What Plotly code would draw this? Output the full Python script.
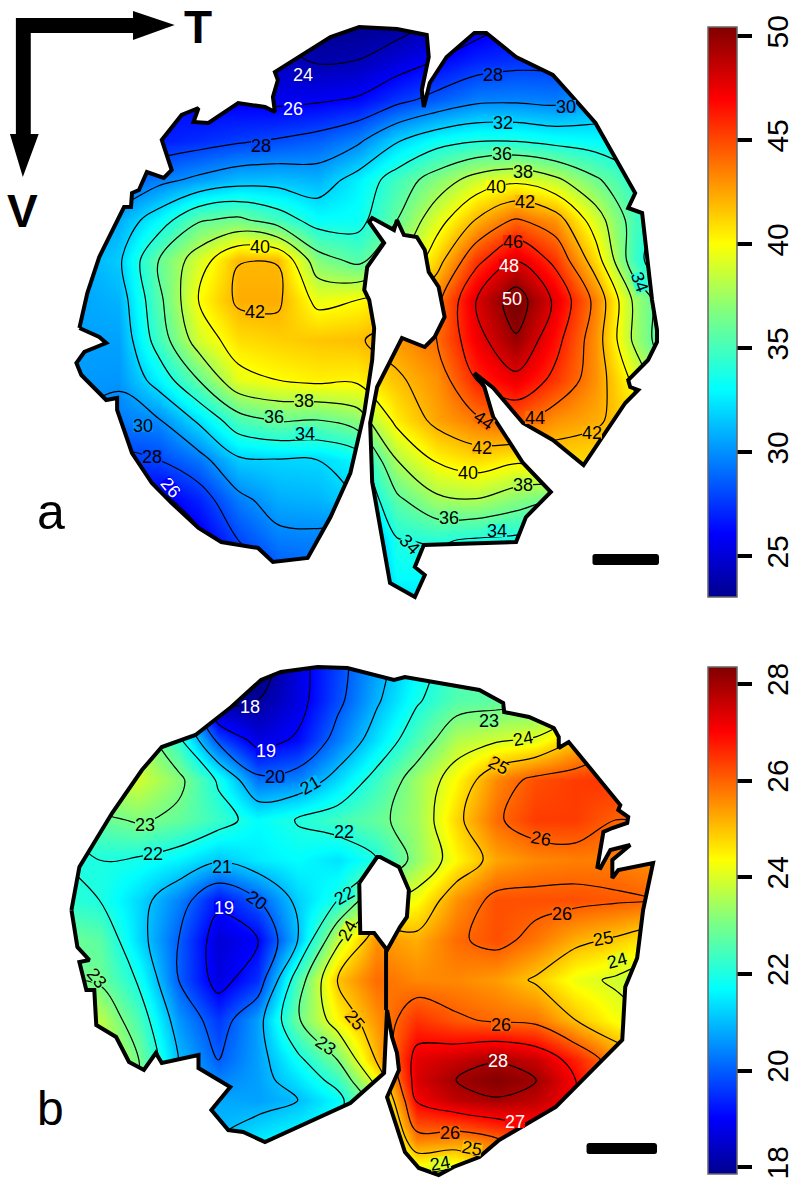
import plotly.graph_objects as go

JET = [[0, "#00008F"], [0.111, "#0000FF"], [0.365, "#00FFFF"], [0.5, "#80FF80"],
       [0.62, "#FFFF00"], [0.873, "#FF0000"], [1, "#800000"]]

# ---------- panel a ----------
A_X = [70, 120, 160, 200, 240, 280, 320, 360, 400, 440, 480, 520, 560, 600, 640, 680]
A_Y = [20, 60, 100, 140, 180, 220, 260, 300, 340, 380, 420, 460, 500, 540, 580, 620]
A_Z = [
 [28, 27, 26, 25, 24, 23.5, 23, 23, 23, 24, 25, 26, 27, 28, 29, 30],
 [27.5, 27, 26, 25.5, 25, 24.5, 23.8, 24, 25, 26, 27, 27.4, 27.5, 28, 29, 30],
 [28, 27.5, 26.5, 26, 25.8, 25.6, 25.8, 26.2, 27.5, 28.6, 29.6, 29.7, 29.5, 30.5, 31, 32],
 [27, 26.5, 26.8, 27.2, 27.7, 28.1, 28.6, 29.6, 31.8, 33.2, 33.8, 33.8, 33.3, 33, 33, 33.5],
 [27, 28.5, 29.5, 30.4, 31.2, 31.3, 31, 32.7, 34.9, 36.9, 38.8, 39.6, 38.4, 36.3, 34.3, 33],
 [30, 30.8, 33, 35.8, 36.4, 35, 33.2, 33.3, 36, 39.2, 42.1, 44.2, 42.9, 39, 35, 33],
 [30.5, 31.7, 36, 39, 41.95, 41.95, 36.8, 35.5, 37.5, 41.2, 45.5, 47.9, 45.5, 41, 34.6, 32],
 [30.5, 31, 35.5, 40, 42.3, 42.3, 39.5, 40, 41, 43.5, 48, 51, 47.6, 43.5, 37.5, 34],
 [30.5, 30.5, 34.9, 38.9, 40.9, 41.3, 41.6, 41.8, 42.8, 44, 47.3, 49.8, 46.6, 43, 37.5, 34],
 [30.3, 30.2, 32.8, 36, 39.4, 40, 40.4, 40.3, 41.7, 43, 46, 47.5, 45.5, 43, 39.5, 35],
 [30, 29.5, 29.9, 32.3, 35.2, 36.2, 36, 37, 40.5, 42.5, 43.7, 44.5, 43, 42.3, 41, 35],
 [28, 27.5, 28, 29.3, 31.7, 31.9, 32, 33, 38, 40.2, 41, 40.3, 41, 41, 40, 38],
 [27, 26, 25.5, 27, 29.5, 30.8, 31, 32, 35.6, 37.6, 37.9, 36.9, 36, 37, 38, 38],
 [26, 25, 25, 25.5, 28, 29.5, 29.6, 28.5, 33.9, 34.2, 33.8, 33.6, 33, 33, 34, 35],
 [25, 24, 24, 25, 26, 28, 29, 29, 33, 33, 32, 33, 33, 33, 34, 35],
 [25, 24, 24, 25, 26, 28, 29, 29, 31, 32, 32, 33, 33, 33, 34, 35],
]
A_OUTLINE_X = [80,100,107,85,77,82,107,118,118,133,153,173,200,223,260,275,310,333,353,367,375,377,372,367,370,387,372,375,397,400,407,420,428,432,442,445,448,448,438,428,405,380,373,375,393,418,428,418,427,520,530,555,527,497,488,478,497,527,557,588,630,643,635,633,653,662,662,657,647,633,640,620,600,577,557,520,490,478,450,433,427,425,432,430,400,362,333,277,280,275,277,267,240,210,195,200,183,163,173,165,148,140,133,132,125,100,88]
A_OUTLINE_Y = [328,337,343,352,363,375,400,398,410,453,483,503,528,542,548,562,558,517,473,413,360,328,300,290,267,243,222,218,230,220,235,237,250,272,287,300,317,317,337,347,338,387,423,482,583,597,575,567,545,542,517,492,463,417,387,373,388,423,440,465,403,390,387,380,360,342,330,300,213,208,193,157,123,97,75,57,33,33,57,83,107,90,57,35,29,27,37,72,80,97,112,107,103,123,122,108,115,140,170,178,172,190,193,207,207,257,293]
A_LEVELS = (24, 50, 2)
A_TICK_STEP = 5
A_RANGE = (23.05, 50.45)

# ---------- panel b ----------
B_X = [60, 100, 140, 180, 220, 260, 300, 340, 380, 420, 460, 500, 540, 580, 620, 660, 700]
B_Y = [660, 700, 740, 780, 820, 860, 900, 940, 980, 1020, 1060, 1080, 1100, 1140, 1180]
B_Z = [
 [23, 23, 22, 19.5, 17.3, 17.4, 18.7, 19.7, 20.7, 21.6, 22.4, 23, 23.5, 24, 24.5, 25, 25],
 [23, 23.5, 23.5, 21, 17.8, 18, 18.7, 19.8, 20.9, 21.9, 22.6, 22.7, 22.8, 23.2, 24, 24.5, 25],
 [23, 23.8, 23.6, 22.2, 19.8, 18.7, 19.1, 20.3, 21.4, 22.5, 23.6, 23.9, 24.1, 25, 25.8, 26, 26],
 [23, 23.8, 23.9, 23.2, 21.9, 20.2, 20.4, 21.3, 22.3, 23.4, 24.4, 25.6, 26.2, 26.4, 26.5, 26.5, 26],
 [22, 22.8, 23.1, 22.8, 22.3, 21.7, 22.05, 22.4, 22.8, 23.4, 24.8, 25.9, 26.4, 26.4, 26, 26, 25.8],
 [22, 22, 21.9, 21.6, 21.1, 21.5, 21.7, 21.4, 22, 23.3, 24.4, 25.3, 25.6, 25.7, 25.7, 25.5, 25.5],
 [22.2, 22, 21.3, 20.4, 19.2, 20, 21.2, 22, 23.8, 24.3, 25.5, 26.2, 26.2, 26.2, 26.1, 26, 25.8],
 [23, 22.7, 21.3, 20, 18.6, 19, 21, 23.8, 25.5, 25.2, 25.9, 26.2, 25.8, 25.2, 24.9, 24.5, 24.5],
 [23, 22.9, 21.9, 20, 18.7, 19.5, 22.5, 25, 25.9, 25.6, 25.6, 25.4, 24.9, 24.2, 23.9, 23.5, 23.5],
 [23.5, 23.7, 22.5, 20.6, 19.6, 20.7, 22.9, 24.4, 25.5, 26.5, 26.1, 25.9, 25.8, 25, 24.3, 24, 24],
 [24, 24, 23, 21, 20, 20.7, 21.8, 23, 25.1, 27.3, 27.6, 27.95, 27.6, 26.7, 25.6, 25, 25],
 [24, 24, 23, 20.9, 20.4, 20.7, 21.4, 22.3, 24.3, 27.4, 28.03, 28.3, 28.03, 27, 25.8, 25, 25],
 [24, 24, 23, 21, 20.8, 20.7, 21, 21.7, 23.5, 27.1, 27.7, 27.95, 27.7, 27, 26, 25, 25],
 [24, 24, 23, 21.5, 21, 21.5, 21.8, 22, 23, 25.7, 25.5, 25.9, 26.5, 27, 26, 25, 25],
 [24, 24, 23, 22, 21, 21.5, 22, 22, 22.5, 23.5, 23.5, 24.5, 25.5, 26, 26, 25, 25],
]
B_OUTLINE_X = [72,78,90,80,87,95,97,117,130,145,157,163,200,200,232,213,230,245,267,353,387,389,390,395,400,402,390,408,422,442,457,483,503,560,627,630,642,648,658,623,617,617,635,615,605,602,608,617,632,633,623,625,573,563,563,558,533,508,507,483,408,397,350,320,283,263,233,197,163,143,113,80]
B_OUTLINE_Y = [910,947,960,962,990,990,1025,1037,1062,1070,1053,1063,1055,1068,1087,1110,1130,1132,1142,1103,1073,1010,1010,1037,1053,1070,1097,1152,1168,1175,1167,1157,1140,1107,1040,987,958,910,863,870,878,860,845,850,868,867,832,828,823,817,810,805,742,748,737,728,717,712,703,690,677,680,668,667,672,680,707,735,747,770,813,867]
B_HOLE_X = [362,380,383,402,412,410,403,390,377,363]
B_HOLE_Y = [883,857,857,867,890,917,927,950,933,933]
B_SEAM_X = [389, 389]
B_SEAM_Y = [950, 1010]
B_LEVELS = (18, 28, 1)
B_TICK_STEP = 2
B_RANGE = (17.86, 28.35)

# ---------- contour labels: value, position, angle, text colour ----------
A_LABELS = [
 (24,305,74,0,"w"),(26,295,108,0,"w"),(28,263,145,0,"k"),(28,497,74,0,"k"),(30,570,106,0,"k"),
 (32,507,122,0,"k"),(36,506,153,0,"k"),(38,527,171,0,"k"),(40,500,186,0,"k"),(42,529,201,0,"k"),
 (46,517,241,0,"k"),(48,513,265,0,"w"),(50,516,298,0,"w"),(40,262,246,0,"k"),(42,257,311,0,"k"),
 (38,306,400,0,"k"),(36,276,416,0,"k"),(34,307,433,0,"k"),(30,144,425,0,"k"),(28,153,456,0,"k"),
 (26,172,487,50,"w"),(34,645,282,70,"k"),(44,488,420,35,"k"),(44,539,417,0,"k"),(42,486,447,0,"k"),
 (42,596,432,0,"k"),(40,472,472,0,"k"),(38,527,484,0,"k"),(36,452,517,0,"k"),(34,501,530,0,"k"),
 (34,413,544,45,"k"),
]
B_LABELS = [
 (18,252,706,0,"w"),(19,268,750,0,"w"),(20,277,776,0,"k"),(21,312,785,-30,"k"),(23,146,824,0,"k"),
 (22,154,853,0,"k"),(22,347,831,0,"k"),(21,224,866,0,"k"),(20,259,900,35,"k"),(19,226,907,0,"w"),
 (22,347,895,-30,"k"),(24,350,930,-60,"k"),(23,98,978,50,"k"),(23,328,1045,35,"k"),(25,358,1020,50,"k"),
 (23,493,720,0,"k"),(24,527,738,-10,"k"),(25,503,765,30,"k"),(26,545,838,10,"k"),(26,566,913,0,"k"),
 (25,608,938,-10,"k"),(24,622,960,-15,"k"),(26,505,1024,0,"k"),(28,502,1060,0,"w"),(27,519,1121,0,"w"),
 (26,453,1132,0,"k"),(25,476,1148,10,"k"),(24,443,1163,-10,"k"),
]


def hex_rgb(h):
    return tuple(int(h[i:i + 2], 16) for i in (1, 3, 5))


def jet(v, rng):
    f = (v - rng[0]) / (rng[1] - rng[0])
    f = min(max(f, 0), 1)
    for (a, ca), (b, cb) in zip(JET, JET[1:]):
        if f <= b:
            t = (f - a) / (b - a)
            r = [round(p + (q - p) * t) for p, q in zip(hex_rgb(ca), hex_rgb(cb))]
            return f"rgb({r[0]},{r[1]},{r[2]})"
    return JET[-1][1]


def field(x, y, z, rng, step, bar_top, bar_len):
    return go.Heatmap(
        x=x, y=y, z=z, zmin=rng[0], zmax=rng[1], colorscale=JET, zsmooth="best", hoverinfo="skip",
        colorbar=dict(
            x=713 / 795, xanchor="left", xpad=0, ypad=0, y=1 - bar_top / 1182, yanchor="top",
            thickness=29, thicknessmode="pixels", len=bar_len, lenmode="pixels",
            tick0=0, dtick=step, ticks="outside", ticklen=15, tickwidth=4, tickcolor="black",
            tickangle=-90, tickfont=dict(family="Liberation Sans", size=30, color="black"),
            outlinecolor="#666666", outlinewidth=1.5, borderwidth=0),
    )


def lines(x, y, z, levels):
    return go.Contour(
        x=x, y=y, z=z, showscale=False, hoverinfo="skip",
        contours=dict(start=levels[0], end=levels[1], size=levels[2], coloring="none", showlabels=False),
        line=dict(color="black", width=1.2, smoothing=1))


def mask(xs, ys, rect):
    x0, x1, y0, y1 = rect
    return go.Scatter(
        x=[x0, x1, x1, x0, x0, None] + xs + [xs[0]],
        y=[y0, y0, y1, y1, y0, None] + ys + [ys[0]],
        mode="lines", line=dict(width=0), fill="toself", fillcolor="white",
        hoverinfo="skip", showlegend=False)


def border(xs, ys, fill=None):
    return go.Scatter(
        x=xs + [xs[0]], y=ys + [ys[0]], mode="lines",
        line=dict(color="black", width=4), fill="toself" if fill else None, fillcolor=fill,
        hoverinfo="skip", showlegend=False)


def scale_bar(x0, x1, y0, y1):
    r = 2.5
    return dict(type="path", xref="x", yref="y", fillcolor="black", line=dict(width=0),
                path=f"M{x0 + r},{y0} L{x1 - r},{y0} Q{x1},{y0} {x1},{y0 + r} L{x1},{y1 - r} Q{x1},{y1} {x1 - r},{y1} "
                     f"L{x0 + r},{y1} Q{x0},{y1} {x0},{y1 - r} L{x0},{y0 + r} Q{x0},{y0} {x0 + r},{y0} Z")


fig = go.Figure()
fig.add_trace(field(A_X, A_Y, A_Z, A_RANGE, A_TICK_STEP, 27, 570))
fig.add_trace(field(B_X, B_Y, B_Z, B_RANGE, B_TICK_STEP, 667, 507))
fig.add_trace(lines(A_X, A_Y, A_Z, A_LEVELS))
fig.add_trace(lines(B_X, B_Y, B_Z, B_LEVELS))
fig.add_trace(mask(A_OUTLINE_X, A_OUTLINE_Y, (20, 725, -10, 645)))
fig.add_trace(mask(B_OUTLINE_X, B_OUTLINE_Y, (20, 725, 645, 1200)))
fig.add_trace(border(A_OUTLINE_X, A_OUTLINE_Y))
fig.add_trace(border(B_OUTLINE_X, B_OUTLINE_Y))
fig.add_trace(border(B_HOLE_X, B_HOLE_Y, "white"))
fig.add_trace(go.Scatter(x=B_SEAM_X, y=B_SEAM_Y, mode="lines", line=dict(color="black", width=4),
                         hoverinfo="skip", showlegend=False))

annotations = []
for labels, rng in ((A_LABELS, A_RANGE), (B_LABELS, B_RANGE)):
    for val, x, y, ang, col in labels:
        annotations.append(dict(
            x=x, y=y, xref="x", yref="y", text=str(val), showarrow=False, textangle=ang,
            font=dict(family="Liberation Sans", size=18, color="white" if col == "w" else "black"),
            bgcolor=jet(val, rng), borderpad=0, borderwidth=0, height=13))

for text, x, y, size, bold in (("T", 199, 27, 46, True), ("V", 23, 211, 46, True),
                               ("a", 51, 512, 50, False), ("b", 51, 1108, 48, False)):
    annotations.append(dict(
        x=x, y=y, xref="x", yref="y", text=f"<b>{text}</b>" if bold else text, showarrow=False,
        font=dict(family="Liberation Sans", size=size, color="black")))

shapes = [
    dict(type="path", path="M16,18 L134,18 L134,11 L176,25 L134,40 L134,33 L31,33 L31,134 L39,134 L23,177 L10,134 L16,134 Z",
         fillcolor="black", line=dict(width=0), xref="x", yref="y"),
    scale_bar(597, 664, 554, 565),
    scale_bar(591, 662, 1143, 1154),
]

fig.update_layout(
    width=795, height=1182, margin=dict(l=0, r=0, t=0, b=0, pad=0), autosize=False,
    paper_bgcolor="white", plot_bgcolor="white", showlegend=False,
    xaxis=dict(range=[0, 795], visible=False, fixedrange=True),
    yaxis=dict(range=[1182, 0], visible=False, fixedrange=True),
    annotations=annotations, shapes=shapes,
)
fig.write_html("out.html", config={"displayModeBar": False},
               post_script="document.body.style.margin='0';document.body.style.overflow='hidden';")
